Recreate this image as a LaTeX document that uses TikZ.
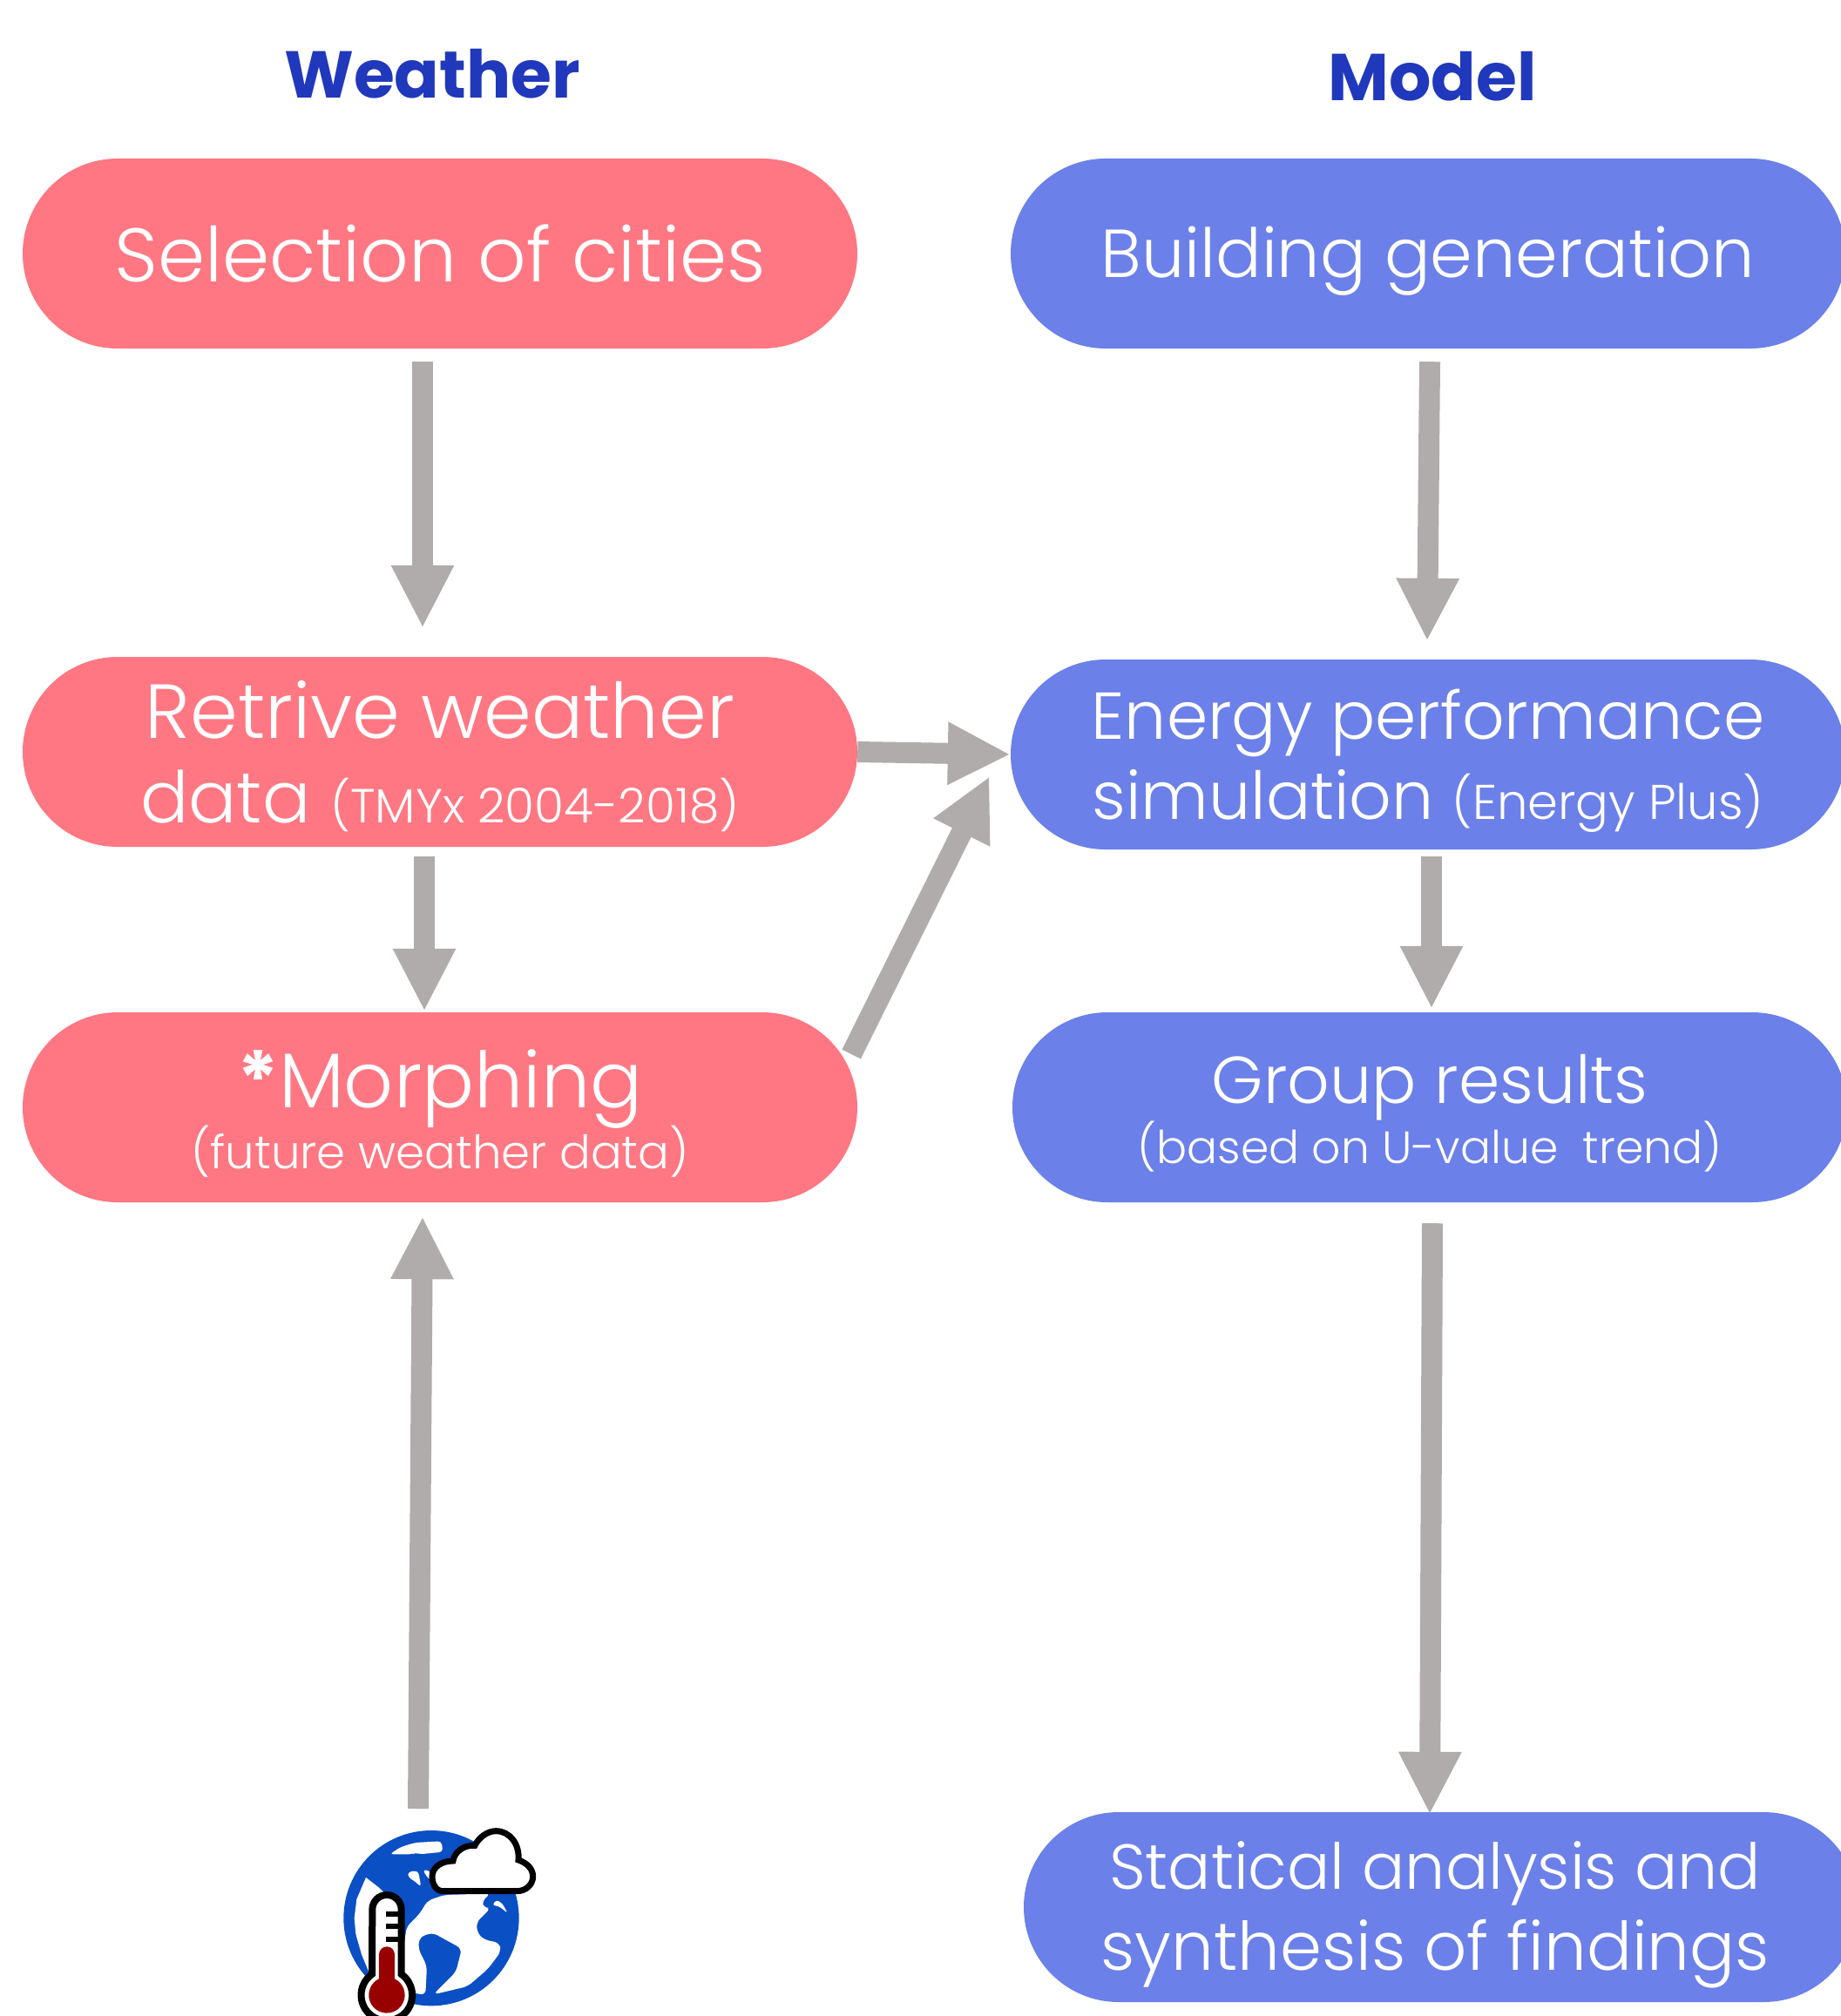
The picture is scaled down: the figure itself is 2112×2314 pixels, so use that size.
\documentclass[tikz,border=0pt]{standalone}
\usepackage{fontspec}
\setmainfont{Poppins}[UprightFont=* Light,BoldFont=* Bold]
\usetikzlibrary{arrows.meta,shapes.misc}
\definecolor{pillred}{HTML}{FF7782}
\definecolor{pillblue}{HTML}{6B80E8}
\definecolor{headblue}{HTML}{2038BC}
\definecolor{arrowgray}{HTML}{AFACAB}
\definecolor{earthblue}{HTML}{0A4FC4}
\definecolor{mercury}{HTML}{990000}
\newcommand{\fs}[1]{\fontsize{#1}{#1}\selectfont}
\tikzset{
  pill/.style={rounded rectangle,minimum width=958pt,minimum height=218pt,inner sep=0pt},
  redpill/.style={pill,fill=pillred},
  bluepill/.style={pill,fill=pillblue},
  pilltext/.style={text=white,align=center,inner sep=0pt},
  heading/.style={text=headblue,font=\fs{76}\bfseries,inner sep=0pt},
  flow/.style={draw=arrowgray,line width=24pt,
    -{Triangle[length=72pt,width=67pt,fill=arrowgray]}}
}
\begin{document}
\begin{tikzpicture}[x=1pt,y=-1pt]
\useasboundingbox (0,0) rectangle (2112,2314);
% headings
\node[heading] (weather) at (496,85) {Weather};
\node[heading] (model) at (1644,88) {Model};
% weather column
\node[redpill] (cities) at (505,291) {};
\node[pilltext] (citiestext) at (cities) {\fs{87}Selection of cities};
\node[redpill] (retrieve) at (505,863) {};
\node[pilltext] (retrievetext) at ([yshift=-5pt]retrieve) {\fs{88}Retrive weather\\[34pt]\fs{82}data \fs{55}(TMYx 2004-2018)};
\node[redpill] (morphing) at (505,1271) {};
\node[pilltext] (morphingtext) at ([yshift=-7pt]morphing) {\fs{89}{\bfseries *}Morphing\\[-4pt]\fs{53}(future weather data)};
% model column
\node[bluepill] (building) at (1639,291) {};
\node[pilltext] (buildingtext) at ([yshift=-9pt]building) {\fs{78}Building generation};
\node[bluepill] (energy) at (1639,866) {};
\node[pilltext] (energytext) at ([yshift=-7pt]energy) {\fs{76}Energy performance\\[13pt]\fs{76}simulation \fs{56}(Energy Plus)};
\node[bluepill] (group) at (1641,1271) {};
\node[pilltext] (grouptext) at ([yshift=-7pt]group) {\fs{76}Group results\\[0pt]\fs{52}(based on U-value~ trend)};
\node[bluepill] (analysis) at (1654,2189) {};
\node[pilltext] (analysistext) at ([xshift=-7pt,yshift=-9pt]analysis) {\fs{73}Statical analysis and\\[15pt]\fs{77}synthesis of findings};
% arrows
\coordinate (icon) at (480,2076);
\draw[flow] ([xshift=-20pt,yshift=-15pt]cities.south) -- ([xshift=-20pt,yshift=33pt]retrieve.north);
\draw[flow] ([xshift=2pt,yshift=-15pt]building.south) -- ([xshift=-1pt,yshift=21pt]energy.north);
\draw[flow] (retrieve.east) -- (energy.west);
\draw[flow] ([xshift=-7pt,yshift=61pt]morphing.east) -- ([xshift=-24pt,yshift=-25pt]energy.west);
\draw[flow] ([xshift=-18pt,yshift=-11pt]retrieve.south) -- ([xshift=-18pt,yshift=1pt]morphing.north);
\draw[flow] ([xshift=4pt,yshift=-8pt]energy.south) -- ([xshift=2pt,yshift=4pt]group.north);
\draw[flow] (icon) -- ([xshift=-20pt,yshift=-16pt]morphing.south);
\draw[flow] ([xshift=3pt,yshift=-24pt]group.south) -- ([xshift=-13pt,yshift=-3pt]analysis.north);
% climate icon
\begin{scope}[shift={(360,2060)},x=.3333pt,y=-.3333pt]
\fill[earthblue] (405,425) circle (302);
% land
\fill[white,rounded corners=4pt] (262,205) -- (340,205) -- (350,198) -- (365,205) -- (445,197) -- (440,160)
  -- (350,165) -- (300,180) -- cycle;
\fill[white] (180,285) -- (225,320) -- (250,345) -- (260,620) -- (190,610) -- (165,550) -- (145,480)
  -- (140,425) -- (148,360) -- cycle;
\fill[white,rounded corners=4pt] (325,265) -- (360,262) -- (370,318) -- (345,295) -- (325,285) -- cycle;
\fill[white,rounded corners=4pt] (375,258) -- (400,262) -- (420,300) -- (395,290) -- cycle;
\fill[white,rounded corners=6pt] (320,455) -- (345,430) -- (365,410) -- (392,365) -- (450,345) -- (610,340)
  -- (580,365) -- (585,390) -- (610,390) -- (560,440) -- (565,480) -- (590,500) -- (640,510) -- (645,540)
  -- (600,600) -- (530,660) -- (412,688) -- (490,610) -- (510,530) -- (410,475) -- (365,490) -- (360,530)
  -- (390,590) -- (385,690) -- (330,680) -- (300,600) -- cycle;
\fill[white,rounded corners=3pt] (615,380) -- (630,362) -- (650,375) -- (668,408) -- (640,385) -- cycle;
% thermometer
\draw[line width=8pt,fill=white] (202,395) arc (180:360:50) -- (302,618) arc (-55:235:88) -- cycle;
\draw[line width=6pt] (250,410) -- (300,410);
\draw[line width=6pt] (250,453) -- (300,453);
\draw[line width=6pt] (250,497) -- (300,497);
\fill[mercury] (225,550) arc (180:360:27) -- (279,634) arc (-64:244:62) -- cycle;
% cloud
\draw[line width=7pt,fill=white] (445,332) .. controls (420,332) and (408,305) .. (408,282)
  .. controls (408,250) and (440,228) .. (480,228) .. controls (485,195) and (520,172) .. (555,175)
  .. controls (570,145) and (600,125) .. (628,125) .. controls (675,125) and (710,170) .. (705,225)
  .. controls (735,235) and (755,255) .. (755,282) .. controls (755,310) and (730,332) .. (700,332) -- cycle;
\end{scope}
\end{tikzpicture}
\end{document}
